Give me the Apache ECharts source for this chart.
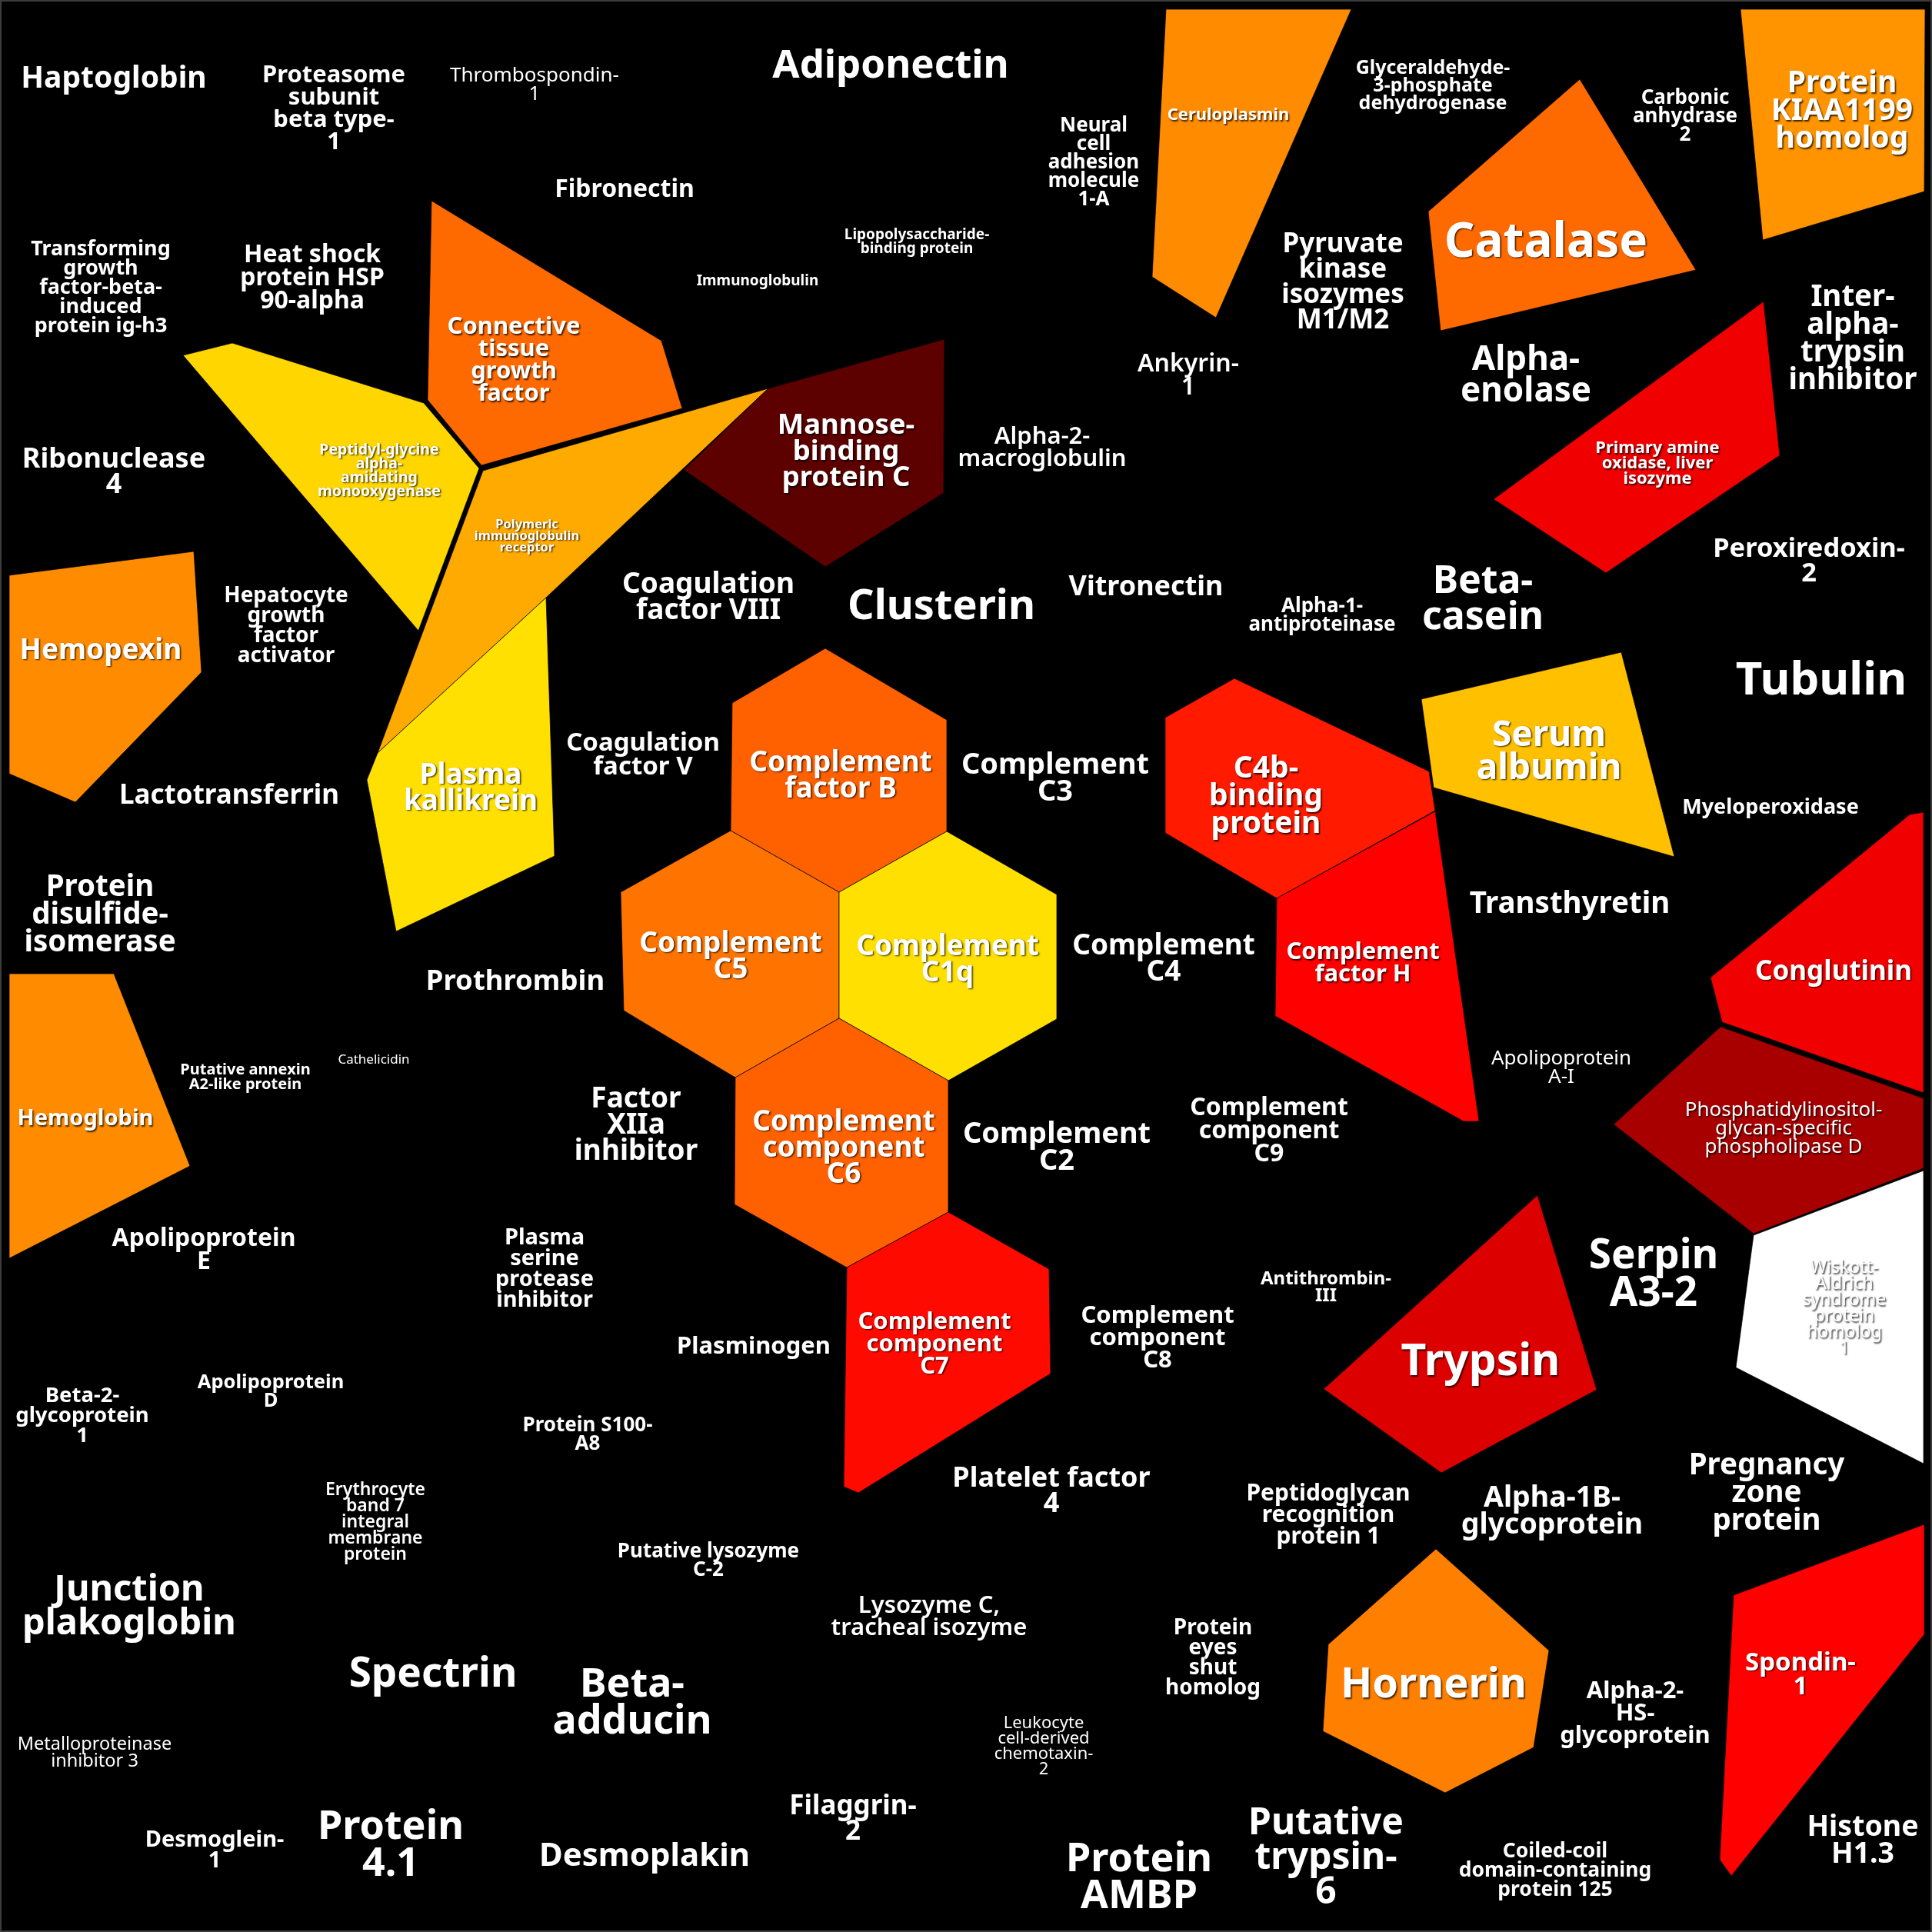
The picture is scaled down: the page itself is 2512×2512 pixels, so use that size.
<!DOCTYPE html>
<html>
<head>
<meta charset="utf-8">
<title>Protein Voronoi treemap</title>
<script src="https://cdn.jsdelivr.net/npm/echarts@6/dist/echarts.min.js"></script>
<style>
  html, body { margin: 0; padding: 0; background: #000; }
  #main { width: 2512px; height: 2512px; }
</style>
</head>
<body>
<div id="main"></div>
<script>
// cells that carry a colour (score > 0), layout units = treemap space 0..2512
const coloredNames = [
  'Peptidyl-glycine\nalpha-\namidating\nmonooxygenase',
  'Connective\ntissue\ngrowth\nfactor',
  'Polymeric\nimmunoglobulin\nreceptor',
  'Plasma\nkallikrein',
  'Mannose-\nbinding\nprotein C',
  'Ceruloplasmin',
  'Catalase',
  'Protein\nKIAA1199\nhomolog',
  'Primary amine\noxidase, liver\nisozyme',
  'Hemopexin',
  'Hemoglobin',
  'Complement\nfactor B',
  'Complement\nC5',
  'Complement\nC1q',
  'Complement\ncomponent\nC6',
  'C4b-\nbinding\nprotein',
  'Complement\nfactor H',
  'Serum\nalbumin',
  'Conglutinin',
  'Phosphatidylinositol-\nglycan-specific\nphospholipase D',
  'Wiskott-\nAldrich\nsyndrome\nprotein\nhomolog\n1',
  'Trypsin',
  'Complement\ncomponent\nC7',
  'Hornerin',
  'Spondin-\n1'
];
const coloredScores = [0.69, 0.531, 0.625, 0.704, 0.135, 0.581, 0.531, 0.593, 0.353, 0.581, 0.581,
  0.516, 0.546, 0.704, 0.516, 0.413, 0.375, 0.657, 0.353, 0.247, 1.0, 0.325, 0.39, 0.563, 0.375];
const coloredX = [493, 668, 685, 612, 1100, 1597, 2010, 2395, 2155, 131, 111,
  1093, 950, 1232, 1097, 1646, 1772, 2014, 2384, 2319, 2398, 1925, 1215, 1864, 2341];
const coloredY = [612, 469, 697, 1025, 588, 150, 316, 145, 603, 846, 1455,
  1009, 1244, 1248, 1493, 1036, 1253, 978, 1264, 1468, 1701, 1772, 1748, 2192, 2178];
const coloredWeight = [19.5, 31, 16.5, 37, 36.5, 22, 62, 39, 22, 37, 29,
  37, 37, 37, 37, 39, 31, 46, 35, 26, 23, 57, 31, 54, 33];
const coloredOutlines = [
  [[238, 462], [302, 446], [551, 524], [623, 609], [544, 820]],
  [[561, 261], [860, 443], [887, 531], [626, 605], [556, 520]],
  [[628, 612], [999, 505], [710, 777], [491, 979]],
  [[491, 979], [710, 777], [721, 1113], [515, 1211], [477, 1014]],
  [[999, 505], [1228, 441], [1227, 641], [1073, 737], [889, 611]],
  [[1516, 12], [1757, 12], [1581, 413], [1498, 360]],
  [[2054, 103], [2205, 351], [1873, 430], [1857, 275]],
  [[2263, 12], [2503, 12], [2502, 249], [2292, 312]],
  [[2293, 392], [2314, 592], [2088, 745], [1942, 649]],
  [[12, 748], [252, 717], [262, 874], [98, 1043], [12, 1006]],
  [[12, 1266], [148, 1266], [247, 1516], [12, 1636]],
  [[1073, 843], [1231, 936], [1231, 1081], [1091, 1160], [950, 1080], [952, 914]],
  [[950, 1080], [1091, 1160], [1091, 1324], [956, 1401], [811, 1314], [807, 1160]],
  [[1231, 1081], [1374, 1163], [1374, 1325], [1233, 1405], [1091, 1324], [1091, 1160]],
  [[1091, 1324], [1233, 1405], [1233, 1576], [1101, 1648], [955, 1566], [956, 1401]],
  [[1605, 882], [1858, 1003], [1866, 1054], [1660, 1168], [1515, 1083], [1515, 933]],
  [[1660, 1168], [1866, 1055], [1923, 1458], [1903, 1458], [1658, 1321]],
  [[1848, 909], [2108, 848], [2177, 1114], [1864, 1024]],
  [[2224, 1271], [2483, 1059], [2501, 1056], [2501, 1421], [2239, 1329]],
  [[2098, 1462], [2237, 1335], [2501, 1428], [2501, 1519], [2280, 1604]],
  [[2280, 1606], [2501, 1522], [2501, 1903], [2257, 1778]],
  [[1999, 1554], [2076, 1807], [1874, 1915], [1721, 1806]],
  [[1101, 1648], [1233, 1576], [1364, 1650], [1366, 1786], [1116, 1941], [1097, 1933]],
  [[1867, 2014], [2014, 2146], [1994, 2272], [1879, 2331], [1720, 2251], [1727, 2138]],
  [[2254, 2074], [2502, 1982], [2502, 2125], [2251, 2439], [2236, 2418]]
];

// cells with score 0 (drawn black), only their labels show
const plainNames = [
  'Haptoglobin', 'Proteasome\nsubunit\nbeta type-\n1', 'Thrombospondin-\n1', 'Adiponectin',
  'Fibronectin', 'Transforming\ngrowth\nfactor-beta-\ninduced\nprotein ig-h3', 'Heat shock\nprotein HSP\n90-alpha',
  'Neural\ncell\nadhesion\nmolecule\n1-A', 'Lipopolysaccharide-\nbinding protein', 'Immunoglobulin',
  'Glyceraldehyde-\n3-phosphate\ndehydrogenase', 'Carbonic\nanhydrase\n2', 'Pyruvate\nkinase\nisozymes\nM1/M2',
  'Ribonuclease\n4', 'Ankyrin-\n1', 'Alpha-\nenolase', 'Inter-\nalpha-\ntrypsin\ninhibitor',
  'Alpha-2-\nmacroglobulin', 'Peroxiredoxin-\n2', 'Hepatocyte\ngrowth\nfactor\nactivator',
  'Coagulation\nfactor VIII', 'Clusterin', 'Vitronectin', 'Alpha-1-\nantiproteinase', 'Beta-\ncasein',
  'Tubulin', 'Coagulation\nfactor V', 'Complement\nC3', 'Lactotransferrin', 'Myeloperoxidase',
  'Protein\ndisulfide-\nisomerase', 'Transthyretin', 'Prothrombin', 'Complement\nC4',
  'Putative annexin\nA2-like protein', 'Cathelicidin', 'Apolipoprotein\nA-I', 'Factor\nXIIa\ninhibitor',
  'Complement\nC2', 'Complement\ncomponent\nC9', 'Apolipoprotein\nE', 'Plasma\nserine\nprotease\ninhibitor',
  'Serpin\nA3-2', 'Antithrombin-\nIII', 'Plasminogen', 'Complement\ncomponent\nC8',
  'Beta-2-\nglycoprotein\n1', 'Apolipoprotein\nD', 'Protein S100-\nA8',
  'Erythrocyte\nband 7\nintegral\nmembrane\nprotein', 'Platelet factor\n4',
  'Peptidoglycan\nrecognition\nprotein 1', 'Alpha-1B-\nglycoprotein', 'Pregnancy\nzone\nprotein',
  'Putative lysozyme\nC-2', 'Junction\nplakoglobin', 'Lysozyme C,\ntracheal isozyme',
  'Protein\neyes\nshut\nhomolog', 'Alpha-2-\nHS-\nglycoprotein', 'Spectrin', 'Beta-\nadducin',
  'Metalloproteinase\ninhibitor 3', 'Leukocyte\ncell-derived\nchemotaxin-\n2', 'Filaggrin-\n2',
  'Desmoglein-\n1', 'Protein\n4.1', 'Desmoplakin', 'Protein\nAMBP', 'Putative\ntrypsin-\n6',
  'Coiled-coil\ndomain-containing\nprotein 125', 'Histone\nH1.3'
];
const plainX = [
  148, 434, 695, 1158, 812, 131, 406, 1422, 1192, 985, 1863, 2191, 1746, 148, 1545, 1984, 2409,
  1355, 2352, 372, 921, 1224, 1490, 1719, 1928, 2368, 836, 1372, 298, 2302, 130, 2041, 670, 1513,
  319, 486, 2030, 827, 1374, 1650, 265, 708, 2150, 1724, 980, 1505, 107, 352, 764, 488, 1367,
  1727, 2018, 2297, 921, 168, 1208, 1577, 2126, 563, 822, 123, 1357, 1109, 279, 508, 838, 1481,
  1724, 2022, 2422
];
const plainY = [
  103, 142, 111, 86, 247, 374, 362, 212, 315, 366, 112, 152, 368, 614, 489, 489, 441,
  583, 730, 814, 777, 790, 764, 801, 780, 886, 982, 1013, 1035, 1050, 1190, 1176, 1277, 1247,
  1401, 1378, 1389, 1463, 1493, 1471, 1626, 1650, 1658, 1674, 1751, 1740, 1841, 1810, 1866, 1979, 1939,
  1970, 1966, 1942, 2030, 2090, 2103, 2156, 2228, 2178, 2215, 2279, 2271, 2366, 2406, 2400, 2414, 2442,
  2416, 2432, 2394
];
const plainWeight = [
  39, 31, 26, 51, 32, 27, 32, 26, 19, 19, 25, 26, 35, 36, 32, 44, 38.5,
  31, 34.5, 28, 37, 54, 36, 26, 50, 60, 33, 38, 35, 27, 38.5, 38.5, 36.5, 37,
  20, 17, 26, 37, 38, 32, 32, 29, 53, 24, 31, 31, 27.5, 25.5, 26, 23, 36,
  30, 37.5, 38.5, 26, 47, 31, 28, 31, 53, 52, 23.5, 22, 35, 29, 52, 42, 52,
  48, 26.5, 37.5
];

// labels set in a lighter weight than the default bold
const lightText = new Set([
  'Thrombospondin-\n1', 'Apolipoprotein\nA-I', 'Phosphatidylinositol-\nglycan-specific\nphospholipase D',
  'Wiskott-\nAldrich\nsyndrome\nprotein\nhomolog\n1', 'Leukocyte\ncell-derived\nchemotaxin-\n2',
  'Metalloproteinase\ninhibitor 3', 'Cathelicidin'
]);
const mediumText = new Set([
  'Lysozyme C,\ntracheal isozyme', 'Erythrocyte\nband 7\nintegral\nmembrane\nprotein',
  'Alpha-2-\nmacroglobulin', 'Ankyrin-\n1'
]);

const FONT = "'Noto Sans', 'DejaVu Sans', sans-serif";

var myChart = echarts.init(document.getElementById('main'));

function labelEl(api, name, x, y, size) {
  const c = api.coord([x, y]);
  let weight = 'bold';
  if (lightText.has(name)) weight = 'normal';
  else if (mediumText.has(name)) weight = 600;
  return {
    type: 'text',
    x: c[0],
    y: c[1],
    z2: 10,
    style: {
      text: name,
      fill: '#fff',
      fontFamily: FONT,
      fontWeight: weight,
      fontSize: size,
      lineHeight: Math.round(size * 0.93),
      align: 'center',
      verticalAlign: 'middle',
      textShadowColor: 'rgba(0,0,0,0.75)',
      textShadowBlur: 2,
      textShadowOffsetX: 1.5,
      textShadowOffsetY: 1.5
    }
  };
}

const option = {
  backgroundColor: '#000',
  animation: false,
  grid: { left: 0, right: 0, top: 0, bottom: 0 },
  xAxis: { type: 'value', min: 0, max: 2512, show: false },
  yAxis: { type: 'value', min: 0, max: 2512, inverse: true, show: false },
  visualMap: {
    show: false,
    type: 'continuous',
    min: 0,
    max: 1,
    dimension: 0,
    seriesIndex: 0,
    // "hot" colour ramp: black -> red -> yellow -> white
    inRange: {
      color: ['#000000', '#550000', '#aa0000', '#ff0000', '#ff5500',
        '#ffaa00', '#ffff00', '#ffff80', '#ffffff']
    }
  },
  graphic: [{
    type: 'rect',
    shape: { x: 1, y: 1, width: 2510, height: 2510 },
    style: { fill: 'none', stroke: '#3c3c3c', lineWidth: 2 },
    z: 100
  }],
  series: [
    {
      type: 'custom',
      coordinateSystem: 'cartesian2d',
      data: coloredScores.map((s, i) => [s, i]),
      renderItem: function (params, api) {
        const i = api.value(1);
        const pts = coloredOutlines[i].map(p => api.coord(p));
        return {
          type: 'group',
          children: [
            {
              type: 'polygon',
              shape: { points: pts },
              style: { fill: api.visual('color'), stroke: 'rgba(0,0,0,0.7)', lineWidth: 1 }
            },
            labelEl(api, coloredNames[i], coloredX[i], coloredY[i], coloredWeight[i])
          ]
        };
      }
    },
    {
      type: 'custom',
      coordinateSystem: 'cartesian2d',
      data: plainNames.map((n, i) => [plainX[i], plainY[i], i]),
      renderItem: function (params, api) {
        const i = api.value(2);
        return labelEl(api, plainNames[i], plainX[i], plainY[i], plainWeight[i]);
      }
    }
  ]
};

myChart.setOption(option);

window.addEventListener('resize', function () {
  myChart.resize();
});
</script>
</body>
</html>
